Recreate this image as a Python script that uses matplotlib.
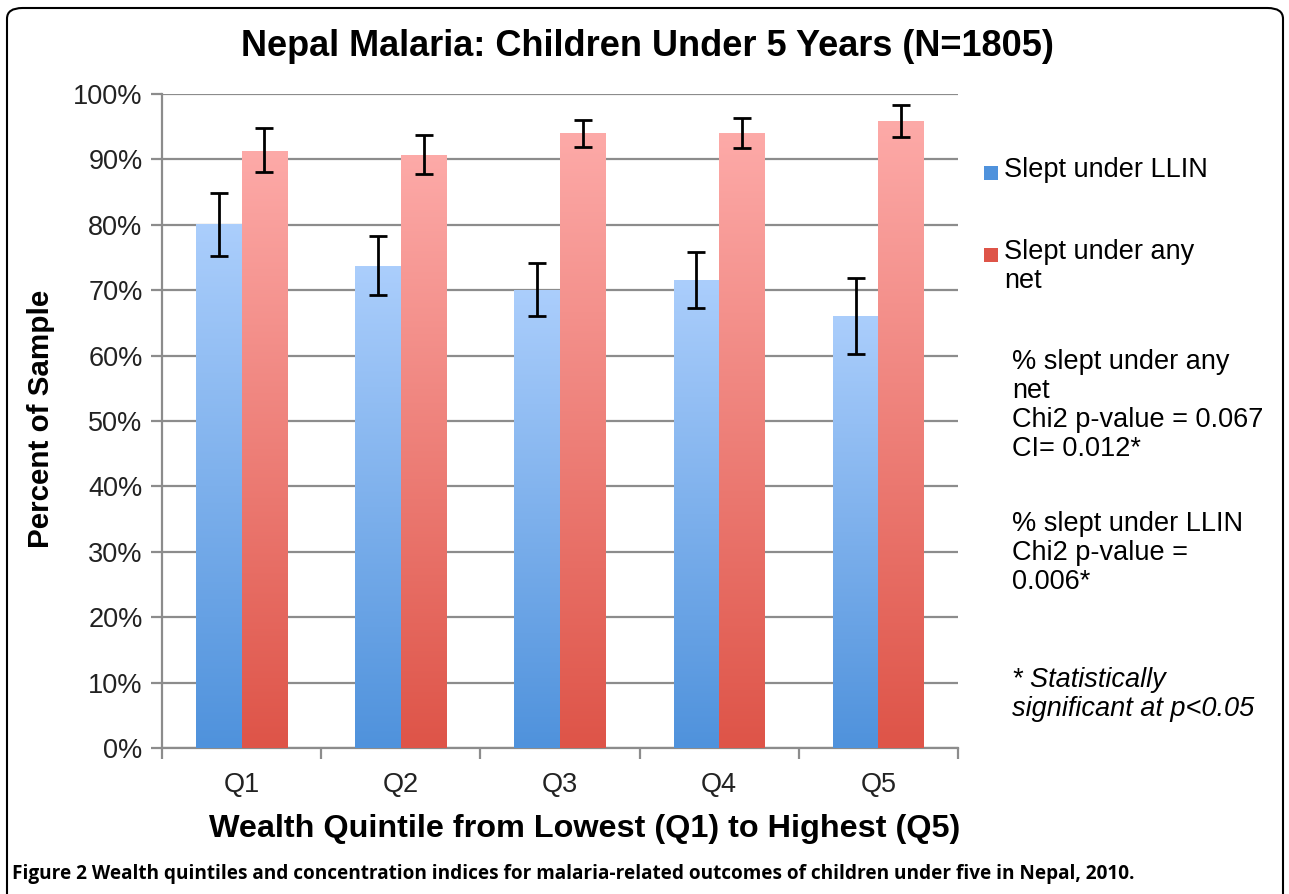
import matplotlib
matplotlib.use("Agg")
import matplotlib.pyplot as plt
import numpy as np
from matplotlib.colors import LinearSegmentedColormap
from matplotlib.patches import FancyBboxPatch, Rectangle
from matplotlib import font_manager

# ---------------- data ----------------
categories = ["Q1", "Q2", "Q3", "Q4", "Q5"]
llin = [80.1, 73.7, 70.1, 71.6, 66.1]
llin_lo = [75.2, 69.2, 66.0, 67.3, 60.2]
llin_hi = [84.9, 78.3, 74.2, 75.9, 71.8]
anynet = [91.3, 90.7, 94.1, 94.0, 95.9]
anynet_lo = [88.0, 87.7, 91.9, 91.7, 93.4]
anynet_hi = [94.8, 93.8, 96.1, 96.3, 98.3]
yticks = [0, 10, 20, 30, 40, 50, 60, 70, 80, 90, 100]
series_labels = ["Slept under LLIN", "Slept under any\nnet"]

title = "Nepal Malaria: Children Under 5 Years (N=1805)"
xlabel = "Wealth Quintile from Lowest (Q1) to Highest (Q5)"
ylabel = "Percent of Sample"
note_lines = ["% slept under any\nnet\nChi2 p-value = 0.067\nCI= 0.012*",
              "% slept under LLIN\nChi2 p-value =\n0.006*"]
sig_note = "* Statistically\nsignificant at p<0.05"
caption_bold = "Figure 2"
caption_rest = " Wealth quintiles and concentration indices for malaria-related outcomes of children under five in Nepal, 2010."

# ---------------- style ----------------
FONT = "Liberation Sans"
plt.rcParams["font.family"] = [FONT, "DejaVu Sans"]
W, H = 1289, 894
DPI = 100
blue_top, blue_bot = "#abcefc", "#4f92dc"
red_top, red_bot = "#fdaaa8", "#de5448"
grid_col = "#8c8c8c"
TXT = 19.5

fig = plt.figure(figsize=(W / DPI, H / DPI), dpi=DPI)

def fx(px):
    return px / W

def fy(py):
    return 1 - py / H

ax = fig.add_axes([fx(162), fy(748), fx(958 - 162), (748 - 94) / H])

x = np.arange(len(categories))
bw = 0.286
b1 = ax.bar(x - bw / 2, llin, bw, color=blue_bot, zorder=3, linewidth=0)
b2 = ax.bar(x + bw / 2, anynet, bw, color=red_bot, zorder=3, linewidth=0)

def gradient(bars, ctop, cbot):
    cmap = LinearSegmentedColormap.from_list("g", [cbot, ctop])
    grad = np.linspace(0, 1, 256).reshape(-1, 1)
    for p in bars:
        x0, y0 = p.get_x(), p.get_y()
        w, h = p.get_width(), p.get_height()
        im = ax.imshow(grad, extent=[x0, x0 + w, y0, y0 + h], origin="lower",
                       aspect="auto", cmap=cmap, zorder=4)
        im.set_clip_path(p)

gradient(b1, blue_top, blue_bot)
gradient(b2, red_top, red_bot)
ax.set_xlim(-0.5, len(categories) - 0.5)
ax.set_ylim(0, 100)
ax.set_aspect("auto")

# error bars
ax.errorbar(x - bw / 2, llin,
            yerr=[np.array(llin) - np.array(llin_lo), np.array(llin_hi) - np.array(llin)],
            fmt="none", ecolor="black", elinewidth=2, capsize=6.5, capthick=2, zorder=6)
ax.errorbar(x + bw / 2, anynet,
            yerr=[np.array(anynet) - np.array(anynet_lo), np.array(anynet_hi) - np.array(anynet)],
            fmt="none", ecolor="black", elinewidth=2, capsize=6.5, capthick=2, zorder=6)

# axes styling
ax.set_yticks(yticks)
ax.set_yticklabels([f"{v}%" for v in yticks], fontsize=TXT, color="#222222")
ax.yaxis.grid(True, color=grid_col, linewidth=1.6, zorder=0)
ax.set_axisbelow(True)
ax.tick_params(axis="y", length=8, width=1.6, color=grid_col, pad=6)
ax.set_xticks(x)
ax.set_xticklabels(categories, fontsize=TXT, color="#222222")
ax.set_xticks(np.arange(-0.5, len(categories) + 0.5, 1), minor=True)
ax.tick_params(axis="x", which="major", length=0, pad=17)
ax.tick_params(axis="x", which="minor", length=8, width=1.6, color=grid_col)
for s in ["top", "right"]:
    ax.spines[s].set_visible(False)
for s in ["left", "bottom"]:
    ax.spines[s].set_color(grid_col)
    ax.spines[s].set_linewidth(1.6)

fig.text(fx(41), fy(419), ylabel, fontsize=21.3, fontweight="bold", rotation=90,
         ha="center", va="center")
fig.text(fx(585), fy(829), xlabel, fontsize=23.3, fontweight="bold", ha="center", va="center")
fig.text(fx(647), fy(46), title, fontsize=26, fontweight="bold", ha="center", va="center")

# legend (manual)
leg_cols = [blue_bot, red_bot]
leg_y = [173, 255]
for col, yy, lab in zip(leg_cols, leg_y, series_labels):
    fig.patches.append(Rectangle((fx(984), fy(yy + 7)), fx(14), 14 / H,
                                 transform=fig.transFigure, facecolor=col, edgecolor="none"))
    fig.text(fx(1004), fy(yy - 16), lab, fontsize=TXT, ha="left", va="top", linespacing=1.15)

fig.text(fx(1012), fy(365 - 16), note_lines[0], fontsize=TXT, ha="left", va="top", linespacing=1.15)
fig.text(fx(1012), fy(527 - 16), note_lines[1], fontsize=TXT, ha="left", va="top", linespacing=1.15)
fig.text(fx(1012), fy(683 - 16), sig_note, fontsize=TXT, ha="left", va="top", linespacing=1.15,
         style="italic")

# caption
def pick(fams):
    for f in fams:
        try:
            font_manager.findfont(font_manager.FontProperties(family=f), fallback_to_default=False)
            return f
        except Exception:
            pass
    return "DejaVu Sans"

cap_font = pick(["Liberation Sans Narrow", "Open Sans"])
cap_size = 13.7 if cap_font == "Open Sans" else 15
t1 = fig.text(fx(12), fy(874), caption_bold, fontsize=cap_size, fontweight="bold", ha="left",
              va="center", family=cap_font)
fig.canvas.draw()
bb = t1.get_window_extent()
fig.text(bb.x1 / W, fy(874), caption_rest, fontsize=cap_size, fontweight="bold", ha="left",
         va="center", family=cap_font)

# border
fig.patches.append(FancyBboxPatch((fx(7), -0.05), fx(1283 - 7), fy(8) + 0.05,
                                  boxstyle="round,pad=0,rounding_size=0.012",
                                  transform=fig.transFigure, facecolor="none",
                                  edgecolor="black", linewidth=1.5, zorder=0))

fig.savefig("out.png", dpi=DPI)
